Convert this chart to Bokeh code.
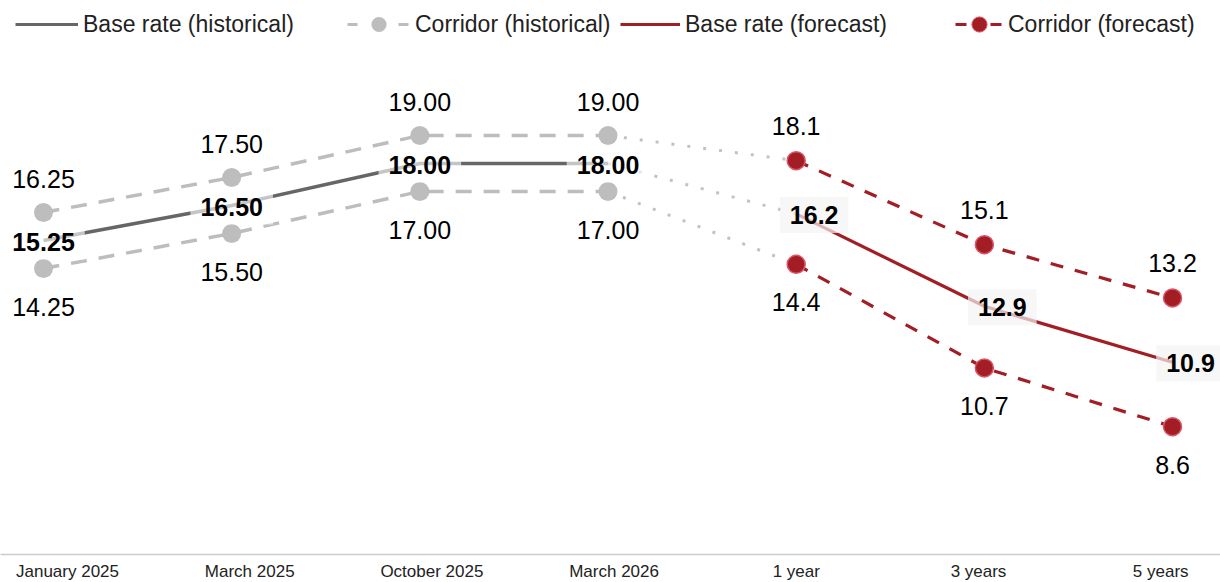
from bokeh.plotting import figure
from bokeh.models import Range1d, FixedTicker, LinearAxis, Legend, LegendItem, ColumnDataSource
from bokeh.core.properties import value
from bokeh.embed import file_html
from bokeh.resources import INLINE

# ---- data ----
hist_labels = ["January 2025", "March 2025", "October 2025", "March 2026"]
fc_labels = ["1 year", "3 years", "5 years"]
hist_base = [15.25, 16.50, 18.00, 18.00]
hist_upper = [16.25, 17.50, 19.00, 19.00]
hist_lower = [14.25, 15.50, 17.00, 17.00]
fc_base = [16.2, 12.9, 10.9]
fc_upper = [18.1, 15.1, 13.2]
fc_lower = [14.4, 10.7, 8.6]

all_labels = hist_labels + fc_labels
hx = list(range(len(hist_labels)))
fx = [len(hist_labels) + i for i in range(len(fc_labels))]

FONT = "Liberation Sans"
GRAY_DARK = "#666666"
GRAY = "#bdbdbd"
RED = "#a31d24"
RED_EDGE = "#dc5468"
NAN = float("nan")

p = figure(frame_width=1220, frame_height=554, min_border_left=0, min_border_right=0,
           min_border_top=0, min_border_bottom=0,
           x_range=Range1d(-43 / 188.17, (1220 - 43) / 188.17),
           y_range=Range1d(18 - 391 / 28, 18 + 163 / 28),
           output_backend="svg", toolbar_location=None, x_axis_type=None, y_axis_type=None)
p.outline_line_color = None
p.xgrid.visible = False
p.ygrid.visible = False
p.background_fill_color = "white"
p.border_fill_color = "white"

# category axis (labels laid out on their own scale as in the source chart)
p.extra_x_ranges = {"cats": Range1d(-67 / 182.2, (1220 - 67) / 182.2)}
ax = LinearAxis(x_range_name="cats", ticker=FixedTicker(ticks=list(range(len(all_labels)))),
                major_label_overrides={i: l for i, l in enumerate(all_labels)})
ax.major_tick_out = 0
ax.major_tick_in = 0
ax.minor_tick_out = 0
ax.minor_tick_in = 0
ax.axis_line_color = "#cccccc"
ax.axis_line_width = 1.5
ax.major_label_standoff = 7
ax.major_label_text_font = FONT
ax.major_label_text_font_size = "17px"
ax.major_label_text_color = "#222222"
p.add_layout(ax, "below")

# connectors (dotted)
for a, b in [(hist_upper, fc_upper), (hist_base, fc_base), (hist_lower, fc_lower)]:
    p.line([hx[-1], fx[0]], [a[-1], b[0]], line_color="#c2c2c2", line_width=3, line_dash="3 13")

# historical corridor
for arr in (hist_upper, hist_lower):
    p.line(hx, arr, line_color=GRAY, line_width=3.5, line_dash="16 12")
# forecast corridor
for arr in (fc_upper, fc_lower):
    p.line(fx, arr, line_color=RED, line_width=3.2, line_dash="13 12")
# base lines
p.line(hx, hist_base, line_color=GRAY_DARK, line_width=3.5)
p.line(fx, fc_base, line_color=RED, line_width=3.2)

# markers
for arr in (hist_upper, hist_lower):
    p.scatter(hx, arr, size=19, fill_color=GRAY, line_color=None)
for arr in (fc_upper, fc_lower):
    p.scatter(fx, arr, size=18, fill_color=RED, line_color=RED_EDGE, line_width=1.5)

# labels
def lab(xs, ys, fmt, yoff, xoff=0, bold=False, bg=None, bg_alpha=0.0):
    src = ColumnDataSource(dict(x=xs, y=ys, t=[fmt.format(v) for v in ys]))
    kw = {}
    if bg is not None:
        kw = dict(background_fill_color=bg, background_fill_alpha=bg_alpha, padding=[10, 9])
    p.text("x", "y", text="t", source=src, text_align="center", text_baseline="middle",
           text_font=value(FONT), text_font_size="25px",
           text_font_style="bold" if bold else "normal", text_color="#000000",
           x_offset=xoff, y_offset=yoff, **kw)

lab(hx, hist_upper, "{:.2f}", -34)
lab(hx, hist_lower, "{:.2f}", 38)
lab(fx, fc_upper, "{:.1f}", -35)
lab(fx, fc_lower, "{:.1f}", 38)
lab(hx, hist_base, "{:.2f}", 1, bold=True, bg="#ffffff", bg_alpha=0.62)
lab(fx, fc_base, "{:.1f}", 1, xoff=18, bold=True, bg="#f3f3f3", bg_alpha=0.7)

# legend (off-screen placeholder renderers carry the legend styling)
r1 = p.line([NAN], [NAN], line_color=GRAY_DARK, line_width=3)
r2l = p.line([NAN], [NAN], line_color=GRAY, line_width=3, line_dash="10 41")
r2m = p.scatter([NAN], [NAN], fill_color=GRAY, line_color=None)
r3 = p.line([NAN], [NAN], line_color=RED, line_width=3)
r4l = p.line([NAN], [NAN], line_color=RED, line_width=3, line_dash="11 24")
r4m = p.scatter([NAN], [NAN], fill_color=RED, line_color=RED_EDGE, line_width=1)

legend_specs = [
    ("Base rate (historical)", [r1], 15, 63),
    ("Corridor (historical)", [r2l, r2m], 347, 63),
    ("Base rate (forecast)", [r3], 620, 60),
    ("Corridor (forecast)", [r4l, r4m], 955, 48),
]
for label, rs, x0, gw in legend_specs:
    lg = Legend(items=[LegendItem(label=label, renderers=rs)], location=(x0, 554 - 24 - 19),
                orientation="horizontal", padding=0, margin=0, spacing=0,
                glyph_width=gw, glyph_height=38, label_height=38, label_standoff=5,
                label_text_font=FONT, label_text_font_size="23px", label_text_color="#222222",
                border_line_alpha=0, background_fill_alpha=0)
    p.add_layout(lg, "center")

open("out.html", "w").write(file_html(p, INLINE))
